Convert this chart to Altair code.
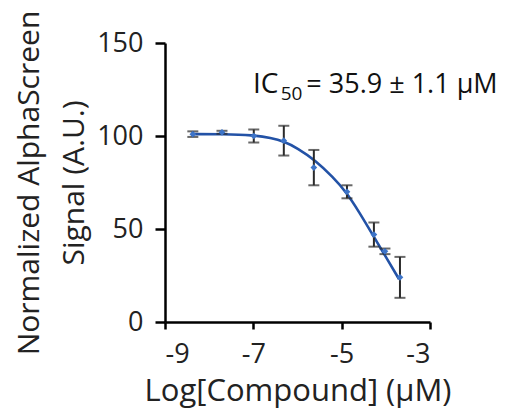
import altair as alt
import pandas as pd

# measured points
log_conc = [-8.37, -7.71, -6.99, -6.31, -5.63, -4.88, -4.27, -4.02, -3.68]
signal = [101, 102, 100, 97.5, 83, 70, 47, 38, 24]
err = [1.5, 0.8, 3.5, 8, 9.5, 3.5, 6.5, 1.5, 11]

# fitted curve
curve_x = [-8.4, -7.7, -7.0, -6.6, -6.3, -6.0, -5.6, -5.2, -4.9, -4.6, -4.3, -4.0, -3.7]
curve_y = [101, 101, 100.5, 99, 97, 93.5, 87, 78, 70, 59, 47, 35, 23]

# annotation pieces (text, x, y in data units, font size)
ann_text = ["IC", "50", "= 35.9 ± 1.1 µM"]
ann_x = [-7.01, -6.38, -5.80]
ann_y = [123, 119.5, 123]
ann_size = [28, 19, 27]

FONT = "Open Sans"

pts = pd.DataFrame({"x": log_conc, "y": signal, "e": err})
pts["lo"] = pts["y"] - pts["e"]
pts["hi"] = pts["y"] + pts["e"]
cur = pd.DataFrame({"x": curve_x, "y": curve_y})
ann = pd.DataFrame({"t": ann_text, "x": ann_x, "y": ann_y, "s": ann_size})

xs = alt.Scale(domain=[-9, -3], nice=False)
ys = alt.Scale(domain=[0, 150], nice=False)

xax = alt.Axis(values=[-9, -7, -5, -3], title="Log[Compound] (µM)", grid=False,
               labelExpr="'' + datum.value",
               domainColor="black", domainWidth=2.5, tickColor="black", tickWidth=2.5, tickSize=7,
               labelFont=FONT, labelFontSize=27, labelColor="#222", labelPadding=12,
               titleFont=FONT, titleFontSize=31, titleFontWeight="normal", titleColor="#222", titlePadding=9)
yax = alt.Axis(values=[0, 50, 100, 150], title=["Normalized AlphaScreen", "Signal (A.U.)"], grid=False,
               domainColor="black", domainWidth=2.5, tickColor="black", tickWidth=2.5, tickSize=10,
               labelFont=FONT, labelFontSize=27, labelColor="#222", labelPadding=12,
               titleFont=FONT, titleFontSize=30, titleFontWeight="normal", titleColor="#222",
               titlePadding=7, titleLineHeight=45)

base = alt.Chart(pts)
bars = base.mark_rule(color="#2a2a2a", strokeWidth=2).encode(
    x=alt.X("x:Q", scale=xs, axis=xax), y=alt.Y("lo:Q", scale=ys, axis=yax), y2="hi:Q")
caps_hi = base.mark_tick(color="#2a2a2a", thickness=2, size=11, orient="horizontal").encode(
    x=alt.X("x:Q", scale=xs), y=alt.Y("hi:Q", scale=ys))
caps_lo = base.mark_tick(color="#2a2a2a", thickness=2, size=11, orient="horizontal").encode(
    x=alt.X("x:Q", scale=xs), y=alt.Y("lo:Q", scale=ys))
dots = base.mark_point(filled=True, shape="diamond", color="#3d74c8", size=45, opacity=1).encode(
    x=alt.X("x:Q", scale=xs), y=alt.Y("y:Q", scale=ys))
line = alt.Chart(cur).mark_line(color="#2352a6", strokeWidth=2.6, interpolate="basis").encode(
    x=alt.X("x:Q", scale=xs), y=alt.Y("y:Q", scale=ys))

txt = alt.Chart(ann).mark_text(font=FONT, align="left", baseline="alphabetic", color="#111").encode(
    x=alt.X("x:Q", scale=xs), y=alt.Y("y:Q", scale=ys), text="t:N",
    size=alt.Size("s:Q", scale=None, legend=None))

chart = alt.layer(line, bars, caps_hi, caps_lo, dots, txt).properties(
    width=265, height=279,
    background="white",
    autosize=alt.AutoSizeParams(type="none"),
    padding={"left": 157, "top": 35, "right": 75, "bottom": 92},
).configure_view(strokeWidth=0, stroke="transparent")

chart.save("out.html", embed_options={"renderer": "svg", "actions": False})
